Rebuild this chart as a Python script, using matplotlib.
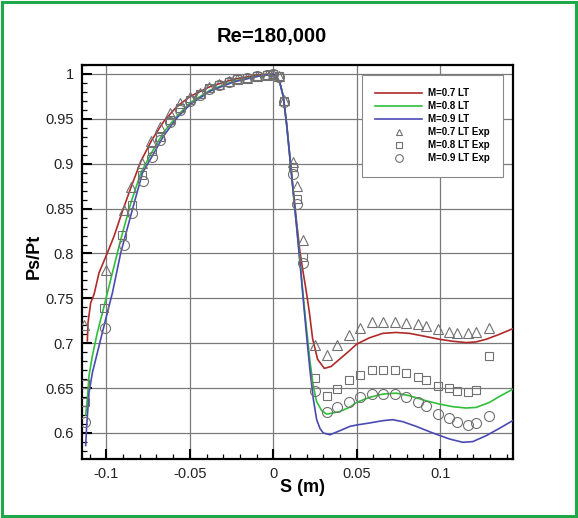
import matplotlib
matplotlib.use("Agg")
import matplotlib.pyplot as plt
from matplotlib.lines import Line2D
from matplotlib.patches import Rectangle
from matplotlib.ticker import MultipleLocator, FixedLocator, FixedFormatter

plt.rcParams['font.family'] = ['Liberation Sans', 'DejaVu Sans']
plt.rcParams['axes.unicode_minus'] = False

title = "Re=180,000"
xlabel = "S (m)"
ylabel = "Ps/Pt"
labels = ["M=0.7 LT", "M=0.8 LT", "M=0.9 LT", "M=0.7 LT Exp", "M=0.8 LT Exp", "M=0.9 LT Exp"]

# ---- CFD lines ----
red_x = [-0.1114, -0.111, -0.1094, -0.1074, -0.1044, -0.0994, -0.0954, -0.0904, -0.0854, -0.0794,
         -0.0727, -0.0657, -0.0578, -0.0498, -0.0378, -0.0239, -0.008, 0.0, 0.002, 0.004, 0.006,
         0.008, 0.010, 0.012, 0.014, 0.016, 0.018, 0.0196, 0.0216, 0.0236, 0.0266, 0.0306, 0.0346,
         0.0396, 0.0456, 0.05, 0.0576, 0.0656, 0.0736, 0.0816, 0.0916, 0.0996, 0.1076, 0.1156,
         0.1216, 0.1276, 0.1356, 0.1437]
red_y = [0.7026, 0.723, 0.745, 0.7544, 0.7785, 0.8007, 0.8193, 0.847, 0.873, 0.9026,
         0.9267, 0.947, 0.9637, 0.975, 0.986, 0.994, 0.9993, 1.0, 0.997, 0.99, 0.975,
         0.945, 0.908, 0.87, 0.835, 0.802, 0.778, 0.76, 0.735, 0.705, 0.682, 0.672, 0.674,
         0.682, 0.6915, 0.699, 0.706, 0.711, 0.712, 0.711, 0.7074, 0.7044, 0.7022, 0.7007,
         0.7015, 0.7044, 0.71, 0.7163]

green_x = [-0.1124, -0.1114, -0.1104, -0.1084, -0.1054, -0.1014, -0.0974, -0.0914, -0.0854, -0.0794,
           -0.0727, -0.0657, -0.0578, -0.0498, -0.0378, -0.0239, -0.008, 0.0, 0.002, 0.004, 0.006,
           0.008, 0.010, 0.012, 0.014, 0.016, 0.018, 0.020, 0.022, 0.024, 0.026, 0.029, 0.032,
           0.0396, 0.0456, 0.05, 0.0576, 0.0656, 0.0736, 0.0816, 0.0916, 0.0996, 0.1076, 0.1156,
           0.1216, 0.1296, 0.1356, 0.1437]
green_y = [0.62, 0.638, 0.664, 0.686, 0.712, 0.741, 0.771, 0.8156, 0.856, 0.8896,
           0.913, 0.935, 0.953, 0.968, 0.982, 0.992, 0.998, 1.0, 0.997, 0.99, 0.975,
           0.944, 0.906, 0.868, 0.83, 0.792, 0.752, 0.715, 0.68, 0.652, 0.635, 0.625, 0.621,
           0.6237, 0.6285, 0.6341, 0.6396, 0.6433, 0.6444, 0.6415, 0.6359, 0.6322, 0.6293, 0.6278,
           0.6285, 0.6341, 0.6407, 0.6489]

blue_x = [-0.1124, -0.1118, -0.1104, -0.1084, -0.1044, -0.1004, -0.0964, -0.0914, -0.0844, -0.0784,
          -0.0727, -0.0657, -0.0578, -0.0498, -0.0378, -0.0239, -0.008, 0.0, 0.002, 0.004, 0.006,
          0.008, 0.010, 0.012, 0.014, 0.016, 0.018, 0.020, 0.022, 0.024, 0.026, 0.028, 0.030,
          0.034, 0.040, 0.046, 0.050, 0.0576, 0.0656, 0.0716, 0.0776, 0.0856, 0.0956, 0.1056,
          0.1136, 0.1196, 0.1276, 0.1356, 0.1437]
blue_y = [0.586, 0.608, 0.645, 0.667, 0.697, 0.727, 0.756, 0.8007, 0.849, 0.8896,
          0.908, 0.931, 0.951, 0.966, 0.981, 0.991, 0.998, 1.0, 0.997, 0.99, 0.975,
          0.944, 0.906, 0.868, 0.83, 0.79, 0.748, 0.708, 0.67, 0.638, 0.615, 0.605, 0.600,
          0.598, 0.6026, 0.6074, 0.6089, 0.6111, 0.6137, 0.6148, 0.6126, 0.6074, 0.600, 0.5933,
          0.5896, 0.5904, 0.597, 0.6052, 0.614]

# ---- Experimental points ----
tri_x = [-0.1135, -0.1004, -0.0897, -0.0853, -0.0787, -0.0731, -0.0677, -0.0618, -0.0558, -0.0499,
         -0.0439, -0.0387, -0.0327, -0.0268, -0.022, -0.0157, -0.0097, -0.004, 0.0, 0.0035, 0.0065,
         0.012, 0.0144, 0.018, 0.025, 0.0324, 0.0382, 0.0452, 0.052, 0.059, 0.066, 0.0732, 0.0798,
         0.0868, 0.0916, 0.099, 0.1052, 0.11, 0.117, 0.1216, 0.1294]
tri_y = [0.72, 0.782, 0.848, 0.874, 0.901, 0.925, 0.941, 0.957, 0.968, 0.974,
         0.979, 0.985, 0.989, 0.992, 0.994, 0.996, 0.998, 0.999, 1.0, 0.998, 0.971,
         0.902, 0.875, 0.815, 0.698, 0.687, 0.698, 0.709, 0.717, 0.724, 0.724, 0.724, 0.723,
         0.721, 0.719, 0.716, 0.713, 0.711, 0.711, 0.713, 0.717]

sq_x = [-0.1128, -0.1128, -0.1014, -0.0904, -0.0848, -0.0787, -0.0727, -0.0677, -0.0618, -0.0558, -0.0499,
        -0.0439, -0.0387, -0.0327, -0.0268, -0.022, -0.0157, -0.0097, -0.004, 0.0, 0.0035, 0.0065,
        0.012, 0.0144, 0.018, 0.025, 0.0324, 0.0382, 0.0452, 0.052, 0.059, 0.066, 0.0732, 0.0798,
        0.0868, 0.0916, 0.099, 0.1052, 0.11, 0.117, 0.1216, 0.1294]
sq_y = [0.655, 0.635, 0.7396, 0.821, 0.854, 0.888, 0.914, 0.930, 0.949, 0.962, 0.971,
        0.978, 0.984, 0.988, 0.991, 0.994, 0.996, 0.998, 0.999, 1.0, 0.998, 0.970,
        0.896, 0.861, 0.796, 0.661, 0.6415, 0.6489, 0.659, 0.6644, 0.6704, 0.670, 0.670, 0.6667,
        0.6626, 0.6589, 0.6526, 0.6496, 0.6467, 0.6452, 0.6478, 0.6859]

circ_x = [-0.1128, -0.101, -0.0894, -0.0844, -0.0781, -0.0727, -0.0677, -0.0618, -0.0558, -0.0499,
          -0.0439, -0.0387, -0.0327, -0.0268, -0.022, -0.0157, -0.0097, -0.004, 0.0, 0.0035, 0.0065,
          0.012, 0.0144, 0.018, 0.025, 0.0324, 0.0382, 0.0452, 0.052, 0.059, 0.066, 0.0732, 0.0798,
          0.0868, 0.0916, 0.099, 0.1052, 0.11, 0.117, 0.1216, 0.1294]
circ_y = [0.612, 0.7174, 0.81, 0.8452, 0.881, 0.908, 0.9267, 0.947, 0.96, 0.97,
          0.977, 0.983, 0.988, 0.991, 0.994, 0.996, 0.998, 0.999, 1.0, 0.997, 0.969,
          0.889, 0.8556, 0.789, 0.6463, 0.623, 0.6285, 0.6348, 0.6396, 0.6433, 0.643, 0.6437, 0.6396,
          0.634, 0.63, 0.6211, 0.6163, 0.6119, 0.6093, 0.6107, 0.6185]

xticks = [-0.1, -0.05, 0.0, 0.05, 0.1]
xticklabels = ["-0.1", "-0.05", "0", "0.05", "0.1"]
yticks = [0.6, 0.65, 0.7, 0.75, 0.8, 0.85, 0.9, 0.95, 1.0]
yticklabels = ["0.6", "0.65", "0.7", "0.75", "0.8", "0.85", "0.9", "0.95", "1"]

fig = plt.figure(figsize=(5.78, 5.18), dpi=100)
ax = fig.add_axes([0.1419, 0.1139, 0.7457, 0.7606])

ax.grid(True, which='major', color='#7a7a7a', linewidth=0.9)
ax.set_axisbelow(True)

c_red = '#b02a2a'
c_green = '#2fbf3a'
c_blue = '#4a4ab5'
mcol = '#707070'

ax.plot(red_x, red_y, color=c_red, lw=1.2, zorder=3)
ax.plot(green_x, green_y, color=c_green, lw=1.2, zorder=3)
ax.plot(blue_x, blue_y, color=c_blue, lw=1.2, zorder=3)
ax.plot(tri_x, tri_y, ls='none', marker='^', ms=6.8, mfc='none', mec=mcol, mew=0.8, zorder=4)
ax.plot(sq_x, sq_y, ls='none', marker='s', ms=5.8, mfc='none', mec=mcol, mew=0.8, zorder=4)
ax.plot(circ_x, circ_y, ls='none', marker='o', ms=7.2, mfc='none', mec=mcol, mew=0.8, zorder=4)

ax.set_xlim(-0.1146, 0.1437)
ax.set_ylim(0.571, 1.01)

ax.xaxis.set_major_locator(FixedLocator(xticks))
ax.xaxis.set_major_formatter(FixedFormatter(xticklabels))
ax.yaxis.set_major_locator(FixedLocator(yticks))
ax.yaxis.set_major_formatter(FixedFormatter(yticklabels))
ax.xaxis.set_minor_locator(MultipleLocator(0.01))
ax.yaxis.set_minor_locator(MultipleLocator(0.01))
ax.tick_params(which='major', direction='in', length=7, width=1.5, labelsize=10.5, pad=6,
               top=False, right=False, labelcolor='#222222')
ax.tick_params(which='minor', direction='in', length=3.5, width=0.9, top=False, right=False)
for s in ax.spines.values():
    s.set_linewidth(1.6)

fig.text(0.4706, 0.9286, title, ha='center', va='center', fontsize=14.5, fontweight='bold')
fig.text(0.523, 0.058, xlabel, ha='center', va='center', fontsize=13, fontweight='bold')
fig.text(0.060, 0.505, ylabel, ha='center', va='center', rotation=90, fontsize=13, fontweight='bold')

handles = [Line2D([], [], color=c_red, lw=1.2),
           Line2D([], [], color=c_green, lw=1.2),
           Line2D([], [], color=c_blue, lw=1.2),
           Line2D([], [], ls='none', marker='^', ms=5, mfc='none', mec=mcol, mew=0.8),
           Line2D([], [], ls='none', marker='s', ms=4.5, mfc='none', mec=mcol, mew=0.8),
           Line2D([], [], ls='none', marker='o', ms=5.5, mfc='none', mec=mcol, mew=0.8)]
leg = ax.legend(handles, labels, loc='upper right', bbox_to_anchor=(0.977, 0.975),
                borderaxespad=0, prop={'weight': 'bold', 'size': 7}, handlelength=4.8,
                handletextpad=0.6, labelspacing=0.3, borderpad=1.4, fancybox=False,
                framealpha=1, edgecolor='#888888')
leg.get_frame().set_linewidth(0.8)
leg.set_zorder(5)

fig.patches.append(Rectangle((0.004, 0.004), 0.992, 0.992, transform=fig.transFigure,
                             fill=False, edgecolor='#1fa84a', linewidth=2.2))

fig.savefig("out.png", dpi=100)
